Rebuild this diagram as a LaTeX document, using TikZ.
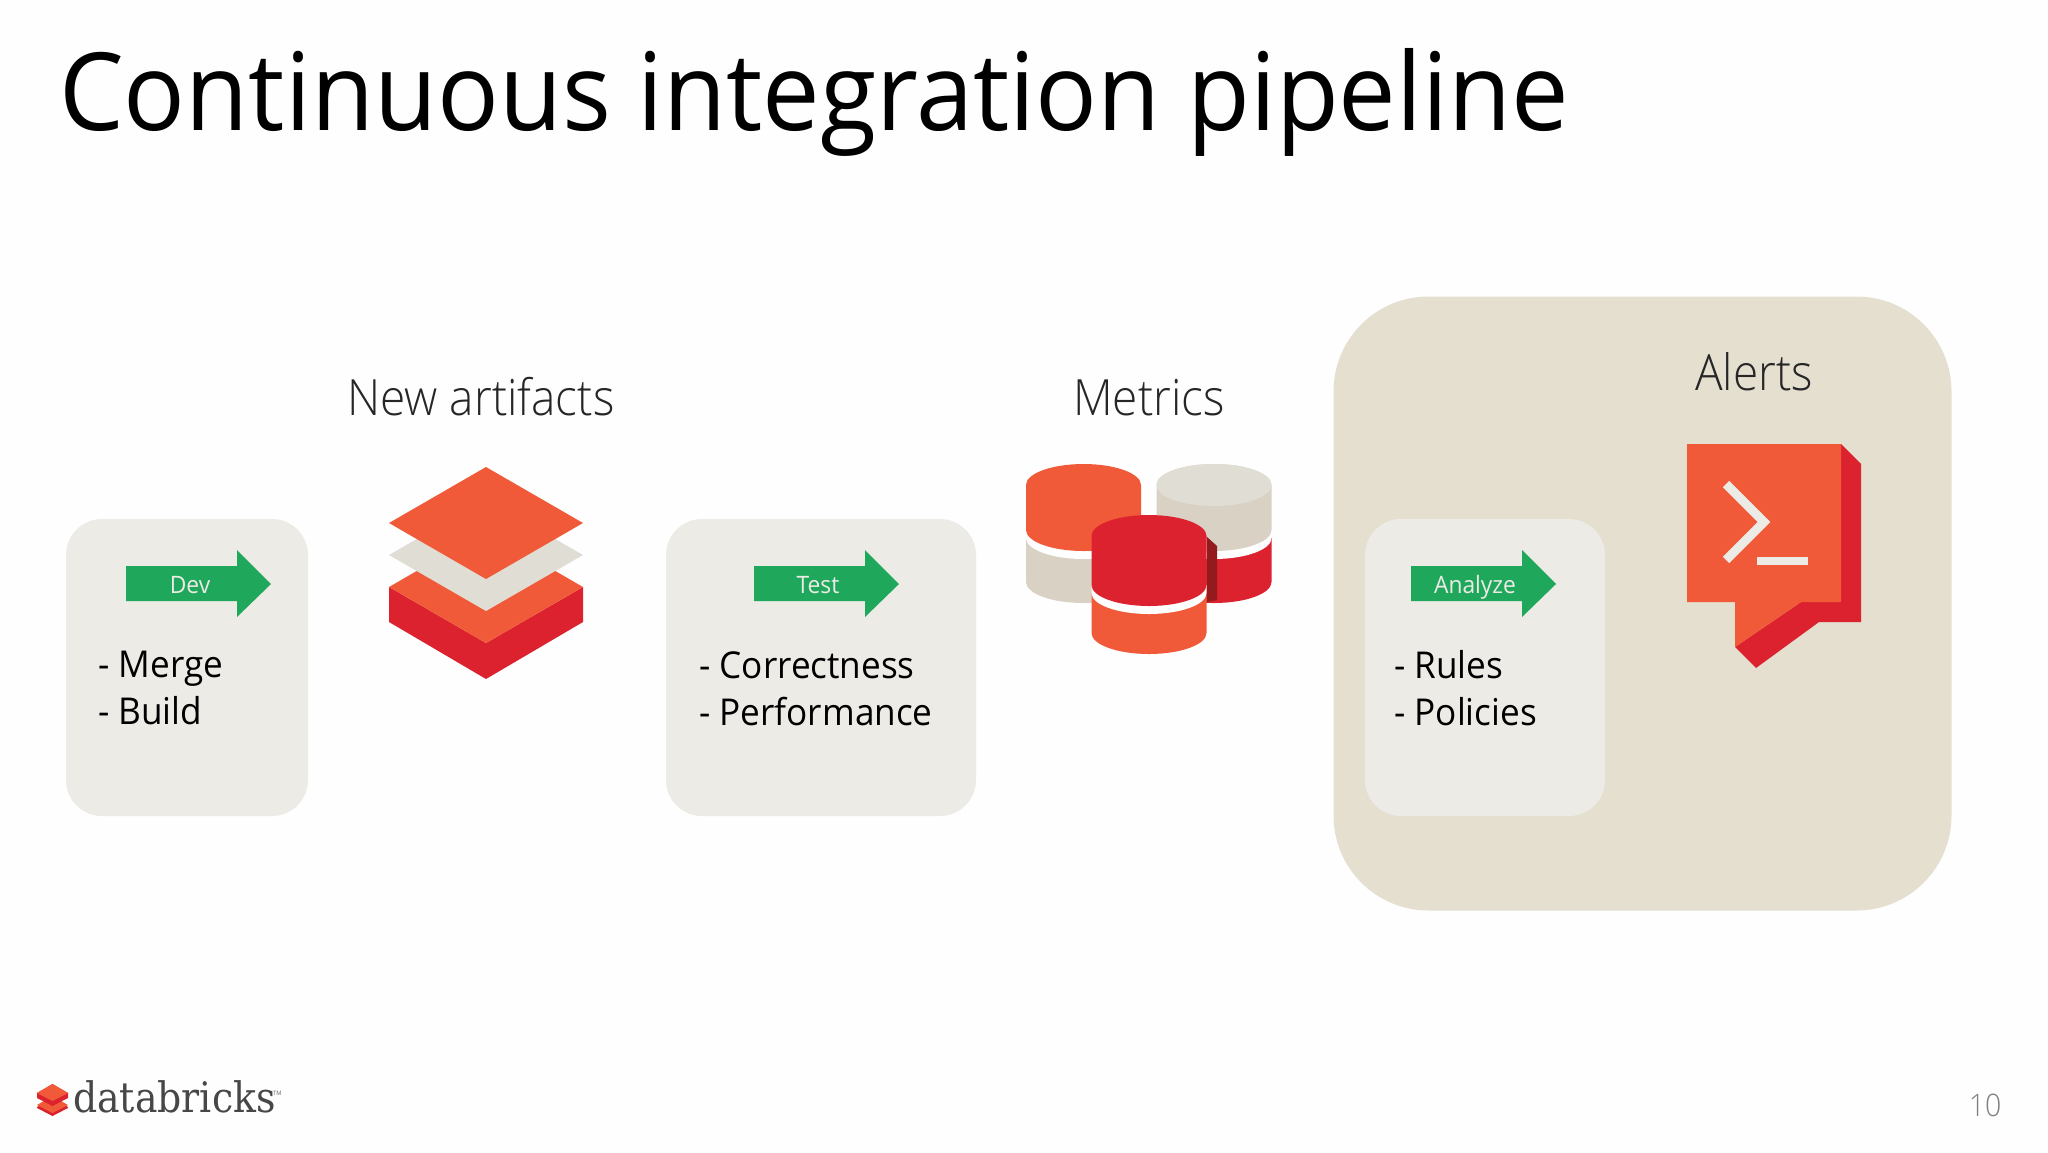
\documentclass[tikz,border=0pt]{standalone}
\usepackage{fontspec}
\setmainfont[FakeStretch=0.95]{Open Sans}
\newfontfamily\lightfont[FakeStretch=0.918]{Open Sans Light}
\newfontfamily\logofont[FakeStretch=0.9]{DejaVu Serif}
\definecolor{boxgrey}{HTML}{ECEBE6}
\definecolor{panel}{HTML}{E5DFD0}
\definecolor{flow}{HTML}{1FA85B}
\definecolor{brickor}{HTML}{F15A38}
\definecolor{brickred}{HTML}{DC222E}
\definecolor{brickdark}{HTML}{931B1E}
\definecolor{stone}{HTML}{E0DDD5}
\definecolor{stonedk}{HTML}{D9D2C4}
\definecolor{paper}{HTML}{FEFEFE}
\tikzset{
  x=1pt,y=-1pt,
  stagebox/.style={fill=boxgrey,rounded corners=36pt,inner sep=0pt},
  flowlabel/.style={anchor=base,text=boxgrey,inner sep=0pt,font=\fontsize{24}{24}\selectfont},
  tasks/.style={anchor=north west,align=left,inner sep=0pt,font=\fontsize{37}{47}\selectfont},
  heading/.style={anchor=base,inner sep=0pt,text=black!85,font=\lightfont\fontsize{50}{50}\selectfont},
}
\newcommand{\flowarrow}[1]{\fill[flow,shift={(#1,0)}] (0,566)--(111,566)--(111,550)--(145,584)--(111,617)--(111,601)--(0,601)--cycle;}
\newcommand{\cyl}[7]{% cx, top-centre y, upper colour, upper-edge y, band edge y, lower colour, bottom edge y
  \fill[#6] (#1-57.5,#5) -- (#1-57.5,#7) arc[start angle=180,end angle=0,x radius=57.5,y radius=21] -- (#1+57.5,#5) -- cycle;
  \fill[paper] (#1-57.5,#4) -- (#1-57.5,#5) arc[start angle=180,end angle=0,x radius=57.5,y radius=21] -- (#1+57.5,#4) -- cycle;
  \fill[#3] (#1-57.5,#2) arc[start angle=180,end angle=360,x radius=57.5,y radius=21] -- (#1+57.5,#4) arc[start angle=0,end angle=180,x radius=57.5,y radius=21] -- cycle;
}
\begin{document}
\begin{tikzpicture}
\useasboundingbox (0,0) rectangle (2048,1152);
\fill[paper] (0,0) rectangle (2048,1152);
\node[anchor=base west,inner sep=0pt,font=\fontsize{108}{108}\selectfont] (title) at (59,130) {Continuous integration pipeline};

% panel and stage boxes
\node[fill=panel,rounded corners=95pt,inner sep=0pt,minimum width=618pt,minimum height=614pt] (panel) at (1642.5,603.5) {};
\node[stagebox,minimum width=242pt,minimum height=297pt] (dev) at (187,667.5) {};
\node[stagebox,minimum width=310pt,minimum height=297pt] (test) at (821,667.5) {};
\node[stagebox,minimum width=240pt,minimum height=297pt] (analyze) at (1485,667.5) {};

% arrows
\flowarrow{126}
\flowarrow{754}
\flowarrow{1411}
\node[flowlabel] (devl) at (190,593) {Dev};
\node[flowlabel] (testl) at (818,593) {Test};
\node[flowlabel] (anal) at (1475,593) {Analyze};

% task lists
\node[tasks] (devt) at (98,651) {- Merge\\- Build};
\node[tasks] (testt) at (699,651) {- Correctness\\- Performance};
\node[tasks] (anat) at (1394,650.5) {- Rules\\- Policies};

% headings
\node[heading] (art) at (481,415) {New artifacts};
\node[heading] (met) at (1149,415) {Metrics};
\node[heading] (ale) at (1754,390) {Alerts};

% layers icon
\fill[brickred] (389,587)--(486,643)--(583,587)--(583,622)--(486,679)--(389,622)--cycle;
\fill[brickor] (389,587)--(486,531)--(583,587)--(486,643)--cycle;
\fill[stone] (389,555)--(486,499)--(583,555)--(486,611)--cycle;
\fill[brickor] (389,523)--(486,467)--(583,523)--(486,579)--cycle;

% metric cylinders
\cyl{1083.5}{485}{brickor}{530}{538}{stonedk}{582}
\cyl{1214}{485}{stonedk}{530}{538}{brickred}{582}
\fill[stone] (1214,485) ellipse[x radius=57.5,y radius=21];
\fill[brickdark] (1207,537)--(1217,546)--(1217,600)--(1207,602)--cycle;
\cyl{1149}{536}{brickred}{585}{593}{brickor}{633}

% alert icon
\fill[brickred] (1841,444)--(1861,464)--(1861,622)--(1819,622)--(1756,668)--(1735,647)--(1801,602)--(1841,602)--cycle;
\fill[brickor] (1687,444)--(1841,444)--(1841,602)--(1801,602)--(1735,647)--(1735,602)--(1687,602)--cycle;
\draw[boxgrey,line width=9pt,miter limit=10] (1726,484)--(1764,522)--(1726,560);
\fill[boxgrey] (1757,557) rectangle (1808,565);

% logo
\fill[brickred] (37,1107)--(52.5,1098)--(68,1107)--(68,1108)--(52.5,1116)--(37,1108)--cycle;
\fill[brickor] (37,1105)--(52.5,1096)--(68,1105)--(52.5,1113)--cycle;
\fill[brickred] (37,1093)--(52.5,1084)--(68,1093)--(68,1098)--(52.5,1106)--(37,1098)--cycle;
\fill[brickor] (37,1093)--(52.5,1084)--(68,1093)--(52.5,1101)--cycle;
\node[anchor=base west,inner sep=0pt,text=black!72,font=\logofont\fontsize{42}{42}\selectfont] (logo) at (73,1112) {databricks};
\node[anchor=base west,inner sep=0pt,text=black!60,font=\fontsize{6}{6}\selectfont] (tm) at (273,1095) {TM};
\node[anchor=base,inner sep=0pt,text=black!50,font=\lightfont\fontsize{31}{31}\selectfont] (page) at (1985,1116) {10};
\end{tikzpicture}
\end{document}
